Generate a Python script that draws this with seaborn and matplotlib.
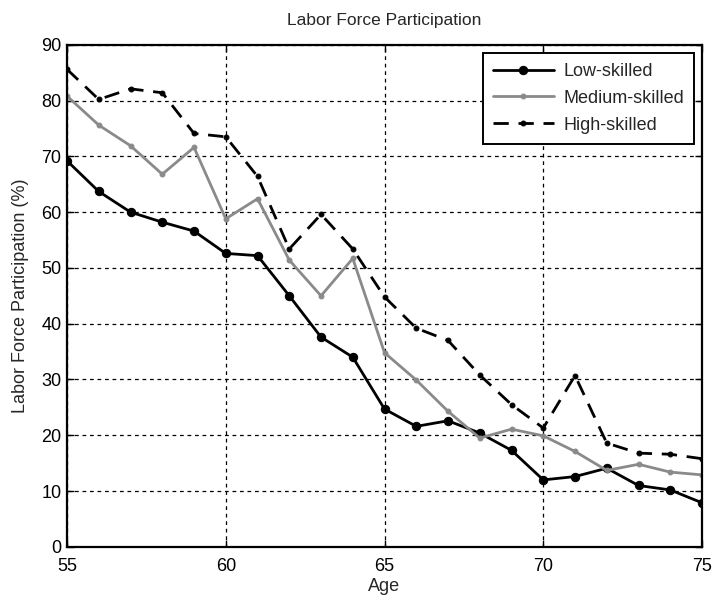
import matplotlib
matplotlib.use("Agg")
import matplotlib.pyplot as plt
import seaborn as sns
import pandas as pd

ages = list(range(55, 76))

low_skilled = [69.2, 63.7, 60.0, 58.2, 56.6, 52.6, 52.2, 45.0, 37.6, 34.0,
               24.7, 21.6, 22.6, 20.4, 17.3, 12.0, 12.6, 14.1, 11.0, 10.2, 7.9]
medium_skilled = [80.8, 75.6, 71.9, 66.8, 71.6, 58.8, 62.4, 51.4, 45.0, 51.7,
                  34.8, 29.9, 24.3, 19.5, 21.1, 19.9, 17.1, 13.7, 14.8, 13.4, 12.9]
high_skilled = [85.6, 80.2, 82.1, 81.4, 74.1, 73.5, 66.4, 53.4, 59.6, 53.4,
                44.8, 39.2, 37.0, 30.8, 25.5, 21.3, 30.7, 18.6, 16.8, 16.6, 15.8]

series_names = ["Low-skilled", "Medium-skilled", "High-skilled"]
x_ticks = [55, 60, 65, 70, 75]
y_ticks = [0, 10, 20, 30, 40, 50, 60, 70, 80, 90]

df = pd.DataFrame({
    "Age": ages * 3,
    "Participation": low_skilled + medium_skilled + high_skilled,
    "Group": [n for n in series_names for _ in ages],
})

sns.set_style("white")
plt.rcParams["font.family"] = ["Liberation Sans", "DejaVu Sans"]

fig = plt.figure(figsize=(7.13, 5.97), dpi=100)
ax = fig.add_axes([0.094, 0.084, 0.8906, 0.841])

styles = {
    "Low-skilled": dict(color="black", marker="o", markersize=6, linestyle="-",
                        markerfacecolor="black", markeredgecolor="black"),
    "Medium-skilled": dict(color="#8a8a8a", marker="o", markersize=3.5, linestyle="-",
                           markerfacecolor="#8a8a8a", markeredgecolor="#8a8a8a"),
    "High-skilled": dict(color="black", marker="o", markersize=3.5, dashes=(5.5, 3.5),
                         markerfacecolor="black", markeredgecolor="black"),
}

for name in series_names:
    sub = df[df["Group"] == name]
    st = dict(styles[name])
    dashes = st.pop("dashes", None)
    sns.lineplot(data=sub, x="Age", y="Participation", ax=ax, label=name,
                 linewidth=2, **st)
    if dashes is not None:
        ax.lines[-1].set_dashes(dashes)

ax.set_xlim(55, 75)
ax.set_ylim(0, 90)
ax.set_xticks(x_ticks)
ax.set_yticks(y_ticks)
ax.tick_params(direction="in", length=5, width=1, labelsize=13, colors="black",
               top=True, right=True, bottom=True, left=True)
ax.tick_params(axis="x", pad=8)
ax.tick_params(axis="y", pad=4)
ax.grid(True, color="black", linestyle=(0, (3, 3)), linewidth=0.9)
for sp in ax.spines.values():
    sp.set_visible(True)
    sp.set_color("black")
    sp.set_linewidth(1.6)

ax.set_xlabel("Age", fontsize=13, labelpad=2)
ax.set_ylabel("Labor Force Participation (%)", fontsize=13, labelpad=9)
ax.set_title("Labor Force Participation", fontsize=12.5, pad=14)

leg = ax.legend(loc="upper right", fontsize=13, frameon=True, fancybox=False,
                edgecolor="black", framealpha=1, handlelength=3.4,
                borderpad=0.55, labelspacing=0.55, handletextpad=0.5,
                borderaxespad=0.45)
leg.get_frame().set_linewidth(1.4)

fig.savefig("out.png", dpi=100)
